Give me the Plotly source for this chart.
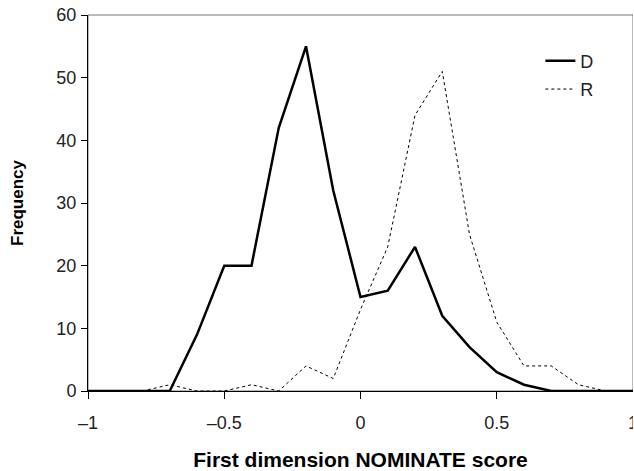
import plotly.graph_objects as go

x_scores = [-1.0, -0.9, -0.8, -0.7, -0.6, -0.5, -0.4, -0.3, -0.2, -0.1, 0.0,
            0.1, 0.2, 0.3, 0.4, 0.5, 0.6, 0.7, 0.8, 0.9, 1.0]
dem_freq = [0, 0, 0, 0, 9, 20, 20, 42, 55, 32, 15, 16, 23, 12, 7, 3, 1, 0, 0, 0, 0]
rep_freq = [0, 0, 0, 1, 0, 0, 1, 0, 4, 2, 13, 23, 44, 51, 25, 11, 4, 4, 1, 0, 0]

x_ticks = [-1, -0.5, 0, 0.5, 1]
x_tick_labels = ["\u20131", "\u20130.5", "0", "0.5", "1"]
y_ticks = [0, 10, 20, 30, 40, 50, 60]

FONT = "Liberation Sans, Arial, Helvetica, sans-serif"

fig = go.Figure()
fig.add_trace(go.Scatter(x=x_scores, y=dem_freq, mode="lines", name="D",
                         legendgroup="d",
                         line=dict(color="black", width=2.5)))
fig.add_trace(go.Scatter(x=x_scores, y=rep_freq, mode="lines", name="R",
                         legendgroup="r",
                         line=dict(color="black", width=1, dash="dot")))

fig.add_shape(type="rect", xref="paper", yref="paper", x0=0, y0=0, x1=1, y1=1,
              line=dict(color="#777777", width=1), layer="below")

fig.update_layout(
    width=633, height=471,
    margin=dict(l=88, r=0, t=15, b=80, autoexpand=False),
    paper_bgcolor="white", plot_bgcolor="white",
    font=dict(family=FONT, size=18, color="#222222"),
    showlegend=True,
    legend=dict(x=0.83, y=0.927, xanchor="left", yanchor="top",
                bgcolor="rgba(0,0,0,0)", font=dict(size=18, color="#222222"),
                itemwidth=30, tracegroupgap=2, traceorder="grouped"),
    xaxis=dict(range=[-1, 1], tickvals=x_ticks, ticktext=x_tick_labels,
               showgrid=False, zeroline=False, showline=True, linecolor="black",
               linewidth=1, ticks="outside", ticklen=7, tickcolor="black",
               ticklabelstandoff=8, automargin=False, ticklabeloverflow="allow",
               tickfont=dict(size=18, color="#222222"),
               title=dict(text="<b>First dimension NOMINATE score</b>",
                          font=dict(size=21, color="black"), standoff=20)),
    yaxis=dict(range=[0, 60], tickvals=y_ticks,
               showgrid=False, zeroline=False, showline=True, linecolor="black",
               linewidth=1, ticks="outside", ticklen=6, tickcolor="black",
               ticklabelstandoff=1, automargin=False, ticklabeloverflow="allow",
               tickfont=dict(size=18, color="#222222"),
               title=dict(text="<b>Frequency</b>",
                          font=dict(size=17, color="black"), standoff=28)),
)

fig.write_html("out.html",
               config={"displayModeBar": False},
               post_script="document.body.style.margin='0';"
                           "document.body.style.overflow='hidden';")
